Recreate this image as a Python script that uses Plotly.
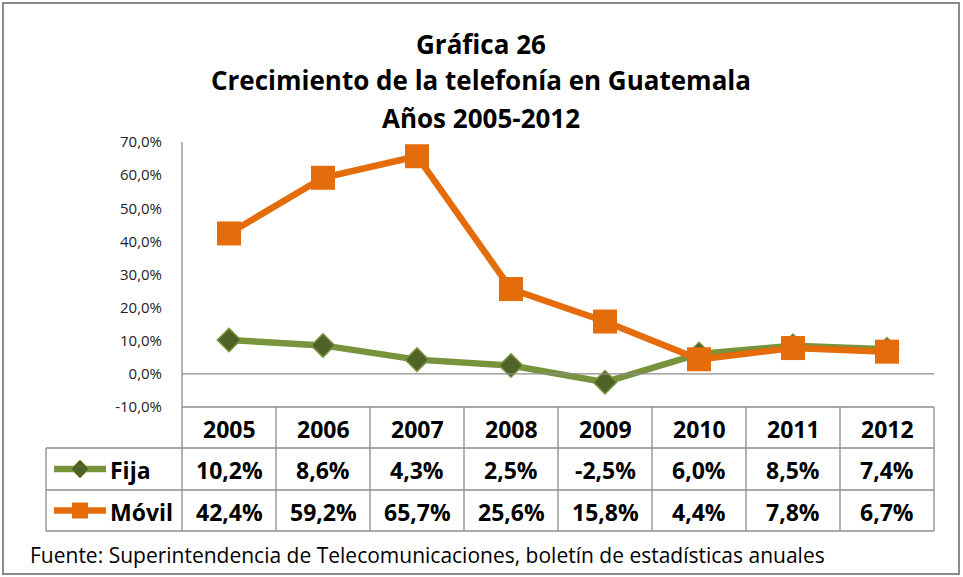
import plotly.graph_objects as go

years = ["2005", "2006", "2007", "2008", "2009", "2010", "2011", "2012"]
fija = [10.2, 8.6, 4.3, 2.5, -2.5, 6.0, 8.5, 7.4]
movil = [42.4, 59.2, 65.7, 25.6, 15.8, 4.4, 7.8, 6.7]
series_names = ["Fija", "Móvil"]
y_ticks = [-10, 0, 10, 20, 30, 40, 50, 60, 70]
y_tick_labels = ["-10,0%", "0,0%", "10,0%", "20,0%", "30,0%", "40,0%", "50,0%", "60,0%", "70,0%"]
title_lines = ["Gráfica 26", "Crecimiento de la telefonía en Guatemala", "Años 2005-2012"]
source_text = "Fuente: Superintendencia de Telecomunicaciones, boletín de estadísticas anuales"

W, H = 963, 577
FONT = "Open Sans"
GRAY = "#8c8c8c"
ORANGE = "#E46C0A"
GREEN = "#77933C"
DKGREEN = "#4F6228"


def px(x):
    return x / W


def py(y):
    return 1 - y / H


# plot area geometry (pixels)
X0, X1 = 182, 934
Y_TOP, Y_BOT = 142, 407
ROWS = [407, 448, 490, 531]
LEG_X = 46

fig = go.Figure()
fig.add_trace(go.Scatter(
    x=years, y=fija, mode="lines+markers", name=series_names[0],
    line=dict(color=GREEN, width=6.5),
    marker=dict(symbol="diamond", size=18, color=DKGREEN, line=dict(color=GREEN, width=1.5)),
))
fig.add_trace(go.Scatter(
    x=years, y=movil, mode="lines+markers", name=series_names[1],
    line=dict(color=ORANGE, width=6.5),
    marker=dict(symbol="square", size=24, color=ORANGE, line=dict(color=ORANGE, width=0)),
))

shapes = []
# outer frame
shapes.append(dict(type="rect", xref="paper", yref="paper", x0=px(3), x1=px(959), y0=py(574), y1=py(3),
                   line=dict(color="#8a8a8a", width=2)))
# y-axis line
shapes.append(dict(type="line", xref="paper", yref="paper", x0=px(X0), x1=px(X0), y0=py(Y_BOT), y1=py(Y_TOP),
                   line=dict(color=GRAY, width=1.3)))
# zero line
shapes.append(dict(type="line", xref="paper", yref="y", x0=px(X0), x1=px(X1), y0=0, y1=0,
                   line=dict(color=GRAY, width=1.3)))
# table horizontal lines
shapes.append(dict(type="line", xref="paper", yref="paper", x0=px(X0), x1=px(X1), y0=py(ROWS[0]), y1=py(ROWS[0]),
                   line=dict(color=GRAY, width=1.3)))
for r in ROWS[1:]:
    shapes.append(dict(type="line", xref="paper", yref="paper", x0=px(LEG_X), x1=px(X1), y0=py(r), y1=py(r),
                       line=dict(color=GRAY, width=1.3)))
# table vertical lines
colw = (X1 - X0) / len(years)
for i in range(len(years) + 1):
    xx = X0 + i * colw
    shapes.append(dict(type="line", xref="paper", yref="paper", x0=px(xx), x1=px(xx), y0=py(ROWS[0]), y1=py(ROWS[3]),
                       line=dict(color=GRAY, width=1.3)))
shapes.append(dict(type="line", xref="paper", yref="paper", x0=px(LEG_X), x1=px(LEG_X), y0=py(ROWS[1]), y1=py(ROWS[3]),
                   line=dict(color=GRAY, width=1.3)))

# legend keys
key_y = [(ROWS[1] + ROWS[2]) / 2, (ROWS[2] + ROWS[3]) / 2]
key_colors = [GREEN, ORANGE]
for ky, kc in zip(key_y, key_colors):
    shapes.append(dict(type="line", xref="paper", yref="paper", x0=px(54), x1=px(106), y0=py(ky), y1=py(ky),
                       line=dict(color=kc, width=6.5)))
# diamond key
cx, cy = 80, key_y[0]
d = 9
shapes.append(dict(type="path", xref="paper", yref="paper",
                   path=f"M {px(cx)} {py(cy - d)} L {px(cx + d)} {py(cy)} L {px(cx)} {py(cy + d)} L {px(cx - d)} {py(cy)} Z",
                   fillcolor=DKGREEN, line=dict(color=GREEN, width=1)))
# square key
cy2 = key_y[1]
shapes.append(dict(type="rect", xref="paper", yref="paper", x0=px(cx - 8), x1=px(cx + 8), y0=py(cy2 + 8), y1=py(cy2 - 8),
                   fillcolor=ORANGE, line=dict(width=0)))

annotations = []
# title
for i, (t, yy) in enumerate(zip(title_lines, [44, 80, 118])):
    annotations.append(dict(text=f"<b>{t}</b>", x=px(481), y=py(yy), xref="paper", yref="paper",
                            showarrow=False, xanchor="center", yanchor="middle",
                            font=dict(family=FONT, size=26, color="black")))


def fmt(v):
    return f"{v:.1f}".replace(".", ",") + "%"


TS = 23
hdr_y = (ROWS[0] + ROWS[1]) / 2
for i, yr in enumerate(years):
    annotations.append(dict(text=f"<b>{yr}</b>", x=i, y=py(hdr_y + 1), xref="x", yref="paper", showarrow=False,
                            xanchor="center", yanchor="middle", font=dict(family=FONT, size=TS, color="black")))
    annotations.append(dict(text=f"<b>{fmt(fija[i])}</b>", x=i, y=py(key_y[0] + 1), xref="x", yref="paper",
                            showarrow=False, xanchor="center", yanchor="middle",
                            font=dict(family=FONT, size=TS, color="black")))
    annotations.append(dict(text=f"<b>{fmt(movil[i])}</b>", x=i, y=py(key_y[1] + 1), xref="x", yref="paper",
                            showarrow=False, xanchor="center", yanchor="middle",
                            font=dict(family=FONT, size=TS, color="black")))

for name, ky in zip(series_names, key_y):
    annotations.append(dict(text=f"<b>{name}</b>", x=px(108), y=py(ky + 1), xref="paper", yref="paper",
                            showarrow=False, xanchor="left", yanchor="middle",
                            font=dict(family=FONT, size=TS, color="black")))

annotations.append(dict(text=source_text, x=px(28), y=py(555), xref="paper", yref="paper", showarrow=False,
                        xanchor="left", yanchor="middle", font=dict(family=FONT, size=21, color="black")))

fig.update_layout(
    width=W, height=H,
    margin=dict(l=0, r=0, t=0, b=0, pad=0, autoexpand=False),
    paper_bgcolor="white", plot_bgcolor="white",
    separators=",.",
    showlegend=False,
    xaxis=dict(domain=[px(X0), px(X1)], type="category", range=[-0.5, 7.5], automargin=False,
               showticklabels=False, showgrid=False, zeroline=False, showline=False, ticks=""),
    yaxis=dict(domain=[py(Y_BOT), py(Y_TOP)], range=[-10, 70], automargin=False,
               tickmode="array", tickvals=y_ticks, ticktext=y_tick_labels,
               showgrid=False, zeroline=False, showline=False,
               ticks="", ticklabelstandoff=19,
               tickfont=dict(family=FONT, size=15, color="#222222")),
    shapes=shapes,
    annotations=annotations,
)

fig.write_html("out.html", config={"displayModeBar": False},
               post_script="document.body.style.margin='0';document.body.style.overflow='hidden';")
